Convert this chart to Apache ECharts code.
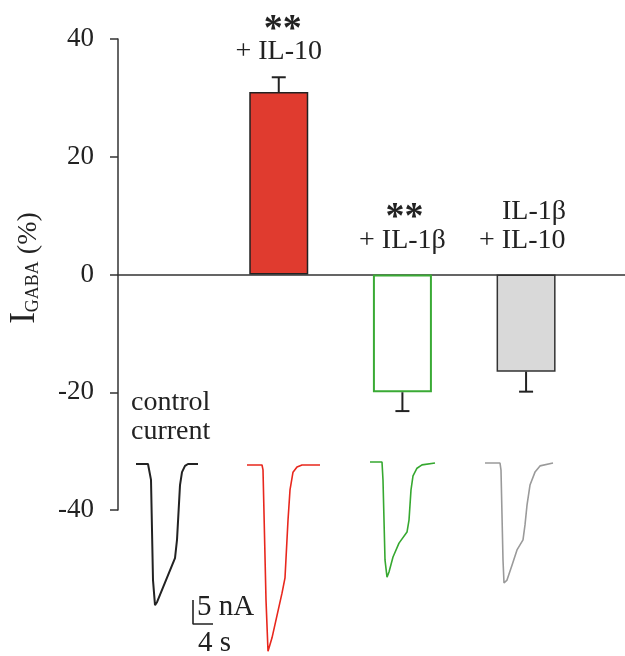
<!DOCTYPE html>
<html>
<head>
<meta charset="utf-8">
<script src="https://cdn.jsdelivr.net/npm/echarts@6/dist/echarts.min.js"></script>
<style>
html, body { margin: 0; padding: 0; background: #fff; }
#chart { width: 625px; height: 656px; }
</style>
</head>
<body>
<div id="chart"></div>
<script>
// bar data (% change of I_GABA)
const barPos = [1, 2, 3]
const barMeans = [31, -20, -16.5]
const barErrors = [2.5, 3.2, 3.4]
const yTicks = [-40, -20, 0, 20, 40]

// current traces, [time (s), current (nA)]
const controlTrace = [[0, 0], [2.4, 0], [2.8, -0.4], [3.0, -3.3], [3.4, -24.2], [3.8, -29.4], [4.2, -28.8],
  [7.8, -19.6], [8.2, -15.8], [8.8, -4.4], [9.2, -1.7], [9.8, -0.4], [10.4, 0], [12.4, 0]]
const il10Trace = [[0, 0], [3.0, 0], [3.2, -1.0], [3.8, -28.1], [4.2, -38.8], [5.0, -36.0], [7.0, -26.7],
  [7.6, -23.5], [8.2, -11.5], [8.6, -5.2], [9.2, -1.5], [10.0, -0.4], [11.0, 0], [14.6, 0]]
const il1bTrace = [[0, 0], [2.4, 0], [2.6, -3.8], [3.0, -20.4], [3.4, -24.0], [3.8, -22.9], [4.6, -19.8],
  [5.8, -16.9], [7.4, -14.6], [7.8, -12.1], [8.2, -5.8], [8.6, -2.9], [9.4, -1.3], [10.4, -0.6], [13.0, -0.2]]
const bothTrace = [[0, 0], [3.0, 0], [3.2, -1.5], [3.6, -20.2], [3.8, -25.0], [4.4, -24.4], [5.4, -21.3],
  [6.4, -18.1], [7.6, -16.0], [8.0, -12.9], [8.4, -8.8], [9.0, -4.6], [10.0, -1.9], [11.0, -0.6], [13.6, 0]]
const scaleBar = [[0, 5], [0, 0], [4, 0]]

const serif = "'Liberation Serif', 'Times New Roman', serif"
const ink = '#222'

// traces share one scale: 5 px per s, 4.8 px per nA
const pxPerS = 5
const pxPerNA = 4.8
const traceGrid = (left, baseline) => ({
  left: left, top: baseline - 5 * pxPerNA,
  width: 16 * pxPerS, height: 50 * pxPerNA,
  outerBoundsMode: 'none'
})
const hiddenX = (i) => ({ gridIndex: i, type: 'value', min: 0, max: 16, show: false })
const hiddenY = (i) => ({ gridIndex: i, type: 'value', min: -45, max: 5, show: false })
const traceSeries = (i, data, color, width) => ({
  type: 'line', xAxisIndex: i, yAxisIndex: i, data: data, symbol: 'none',
  clip: false, silent: true, lineStyle: { color: color, width: width }
})

const barStyles = [
  { color: '#e03b2f', borderColor: ink, borderWidth: 1.5 },
  { color: '#fff', borderColor: '#3aaa35', borderWidth: 2 },
  { color: '#d9d9d9', borderColor: '#333', borderWidth: 1.5 }
]

const chart = echarts.init(document.getElementById('chart'))

chart.setOption({
  animation: false,
  grid: [
    { left: 118, right: 0, top: 39, bottom: 146, outerBoundsMode: 'none' },
    traceGrid(136, 464),
    traceGrid(247, 465),
    traceGrid(370, 462),
    traceGrid(485, 463),
    traceGrid(193, 624)
  ],
  xAxis: [
    {
      gridIndex: 0, type: 'value', min: -0.3, max: 3.8,
      axisLine: { show: true, onZero: true, lineStyle: { color: '#333', width: 1.5 } },
      axisTick: { show: false }, axisLabel: { show: false }, splitLine: { show: false }
    },
    hiddenX(1), hiddenX(2), hiddenX(3), hiddenX(4), hiddenX(5)
  ],
  yAxis: [
    {
      gridIndex: 0, type: 'value', min: yTicks[0], max: yTicks[yTicks.length - 1], interval: 20,
      axisLine: { show: true, onZero: false, lineStyle: { color: '#333', width: 1.5 } },
      axisTick: { show: true, length: 8, lineStyle: { color: '#333', width: 1.5 } },
      axisLabel: { color: ink, fontFamily: serif, fontSize: 27, margin: 24 },
      splitLine: { show: false }
    },
    hiddenY(1), hiddenY(2), hiddenY(3), hiddenY(4), hiddenY(5)
  ],
  series: [
    {
      type: 'bar', xAxisIndex: 0, yAxisIndex: 0, barWidth: 59,
      data: barPos.map((x, i) => ({ value: [x, barMeans[i]], itemStyle: barStyles[i] }))
    },
    {
      type: 'custom', xAxisIndex: 0, yAxisIndex: 0,
      data: barPos.map((x, i) => [x, barMeans[i], barErrors[i]]),
      encode: { x: 0, y: 1 },
      renderItem: (params, api) => {
        const x = api.value(0)
        const m = api.value(1)
        const e = api.value(2)
        const end = m >= 0 ? m + e : m - e
        const p0 = api.coord([x, m])
        const p1 = api.coord([x, end])
        const st = { stroke: ink, lineWidth: 2 }
        return {
          type: 'group',
          children: [
            { type: 'line', shape: { x1: p0[0], y1: p0[1], x2: p1[0], y2: p1[1] }, style: st },
            { type: 'line', shape: { x1: p1[0] - 7, y1: p1[1], x2: p1[0] + 7, y2: p1[1] }, style: st }
          ]
        }
      },
      z: 3
    },
    traceSeries(1, controlTrace, '#222', 2),
    traceSeries(2, il10Trace, '#e8271d', 1.6),
    traceSeries(3, il1bTrace, '#36a830', 1.6),
    traceSeries(4, bothTrace, '#9a9a9a', 1.6),
    traceSeries(5, scaleBar, '#222', 1.6)
  ]
})

const cx = (i) => chart.convertToPixel({ xAxisIndex: 0 }, barPos[i])
const txt = (x, y, text, extra) => ({
  type: 'text', x: x, y: y,
  style: Object.assign({
    text: text, fill: ink, font: '28px ' + serif, align: 'center', verticalAlign: 'middle'
  }, extra || {})
})
const stars = (x, y) => txt(x, y, '**', { font: 'bold 38px ' + serif })

chart.setOption({
  graphic: [
    stars(cx(0) + 4, 30),
    txt(cx(0), 52, '+ IL-10'),
    stars(cx(1) + 2, 218),
    txt(cx(1), 241, '+ IL-1β'),
    txt(502, 212, 'IL-1β', { align: 'left' }),
    txt(479, 241, '+ IL-10', { align: 'left' }),
    txt(131, 403, 'control', { align: 'left' }),
    txt(131, 432, 'current', { align: 'left' }),
    txt(197, 607, '5 nA', { align: 'left', font: '29px ' + serif }),
    txt(198, 643, '4 s', { align: 'left', font: '29px ' + serif }),
    {
      type: 'text', x: 25, y: 268, rotation: Math.PI / 2,
      style: {
        text: '{i|I}{s|GABA}{p| (%)}', align: 'center', verticalAlign: 'middle', fill: ink,
        rich: {
          i: { fontFamily: serif, fontSize: 35, lineHeight: 35, verticalAlign: 'bottom', fill: ink },
          s: { fontFamily: serif, fontSize: 18, lineHeight: 18, verticalAlign: 'bottom', fill: ink },
          p: { fontFamily: serif, fontSize: 28, lineHeight: 28, verticalAlign: 'bottom', fill: ink }
        }
      }
    }
  ]
})
</script>
</body>
</html>
